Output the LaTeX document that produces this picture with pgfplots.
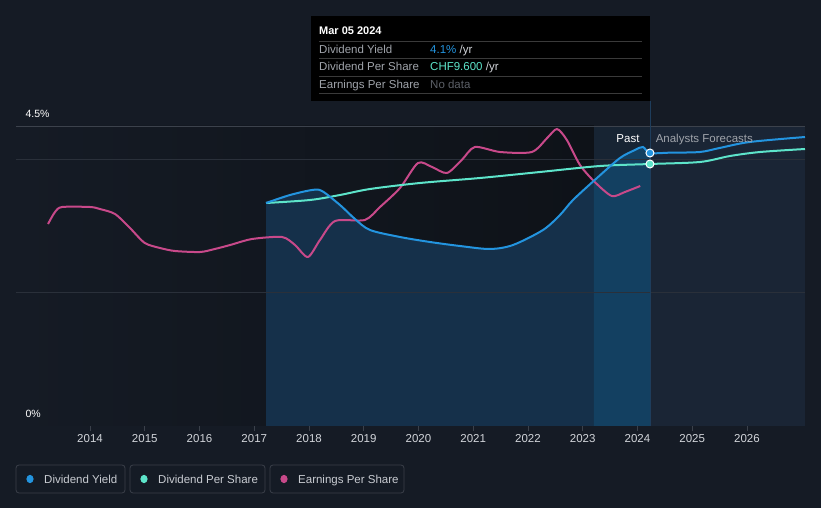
\documentclass[border=0pt]{standalone}
\usepackage{fontspec}
\setmainfont{Liberation Sans}
\usepackage{pgfplots}
\pgfplotsset{compat=1.18}
\definecolor{bg}{HTML}{151B25}
\definecolor{bgdark}{HTML}{0E1218}
\definecolor{pasthl}{HTML}{172433}
\definecolor{fcast}{HTML}{1A2535}
\definecolor{yfill}{HTML}{15304A}
\definecolor{yfillhl}{HTML}{134061}
\definecolor{yieldblue}{HTML}{2394DF}
\definecolor{dpsteal}{HTML}{5DE4CA}
\definecolor{epspink}{HTML}{C8498A}
\definecolor{gridc}{HTML}{2A303A}
\definecolor{gridtop}{HTML}{3C424C}
\definecolor{axisgray}{HTML}{3B414B}
\definecolor{ticktext}{HTML}{D2D5DA}
\definecolor{legtext}{HTML}{C9CCD2}
\definecolor{legborder}{HTML}{3A3F49}
\definecolor{ttlabel}{HTML}{A0A4AB}
\definecolor{ttsep}{HTML}{3A3A3A}
\definecolor{ttgrey}{HTML}{5C6068}
\definecolor{hover}{HTML}{1E3D5C}
\tikzset{txt/.style={anchor=west, inner sep=0pt, text height=8.3pt, text depth=0pt, font=\fontsize{11.5}{13}\selectfont}}
\begin{document}
\begin{tikzpicture}
\fill[bg] (0,0) rectangle (821pt,508pt);
\begin{axis}[
  at={(16pt,82pt)}, anchor=south west,
  scale only axis, width=789pt, height=300pt,
  xmin=2012.648, xmax=2027.06, ymin=0, ymax=4.5,
  clip=false,
  axis x line*=bottom, axis y line=none,
  x axis line style={-, draw=axisgray, line width=1pt},
  xtick={2014,2015,2016,2017,2018,2019,2020,2021,2022,2023,2024,2025,2026},
  xticklabels={2014,2015,2016,2017,2018,2019,2020,2021,2022,2023,2024,2025,2026},
  tick style={draw=axisgray, line width=0.8pt},
  tick align=outside, major tick length=5pt,
  xticklabel style={font=\fontsize{11.5}{13}\selectfont, text=ticktext},
  ytick=\empty,
]
% regions
\shade[left color=bg, right color=bgdark] (axis cs:2012.648,0) rectangle (axis cs:2023.205,4.5);
\fill[pasthl] (axis cs:2023.205,0) rectangle (axis cs:2024.228,4.5);
\fill[fcast] (axis cs:2024.228,0) rectangle (axis cs:2027.06,4.5);
% yield area
\addplot[smooth, tension=0.5, draw=none, fill=yfill] coordinates {
(2017.215,3.345)(2017.653,3.465)(2018.055,3.54)(2018.237,3.525)(2018.566,3.315)(2018.84,3.105)(2019.114,2.94)(2019.662,2.835)(2020.21,2.76)(2020.758,2.70)(2021.306,2.655)(2021.726,2.715)(2022.274,2.94)(2022.584,3.165)(2022.822,3.39)(2023.26,3.72)(2023.68,4.02)(2023.954,4.14)(2024.1,4.185)(2024.228,4.095)
} \closedcycle;
\addplot[smooth, tension=0.5, draw=none, fill=yfillhl] coordinates {
(2023.205,3.67)(2023.26,3.72)(2023.68,4.02)(2023.954,4.14)(2024.1,4.185)(2024.228,4.095)
} \closedcycle;
% grid
\draw[gridc, line width=0.8pt] (axis cs:2012.648,2) -- (axis cs:2027.06,2);
\draw[gridc, line width=0.8pt] (axis cs:2012.648,4) -- (axis cs:2027.06,4);
\draw[gridtop, line width=0.8pt] (axis cs:2012.648,4.5) -- (axis cs:2027.06,4.5);
% hover line
\draw[hover, line width=0.8pt] (axis cs:2024.228,0) -- (axis cs:2024.228,4.875);
% EPS
\addplot[smooth, tension=0.45, epspink, line width=2pt] coordinates {
(2013.233,3.03)(2013.36,3.21)(2013.49,3.285)(2014.0,3.285)(2014.18,3.255)(2014.457,3.18)(2014.73,2.97)(2015.0,2.745)(2015.28,2.67)(2015.55,2.625)(2016.01,2.61)(2016.28,2.655)(2016.56,2.715)(2016.96,2.805)(2017.507,2.835)(2017.744,2.715)(2017.98,2.535)(2018.2,2.79)(2018.475,3.075)(2019.02,3.09)(2019.297,3.285)(2019.662,3.57)(2019.99,3.945)(2020.247,3.885)(2020.52,3.795)(2020.79,3.99)(2021.03,4.185)(2021.49,4.11)(2022.07,4.11)(2022.35,4.32)(2022.53,4.455)(2022.71,4.29)(2022.95,3.915)(2023.22,3.66)(2023.53,3.45)(2023.77,3.51)(2024.05,3.60)
};
% DPS
\addplot[smooth, tension=0.5, dpsteal, line width=2pt] coordinates {
(2017.215,3.345)(2018.018,3.39)(2018.566,3.465)(2019.114,3.555)(2020.027,3.645)(2021.123,3.72)(2022.219,3.81)(2023.315,3.90)(2024.228,3.93)(2025.14,3.96)(2025.69,4.05)(2026.24,4.11)(2027.06,4.155)
};
% Yield
\addplot[smooth, tension=0.5, yieldblue, line width=2pt] coordinates {
(2017.215,3.345)(2017.653,3.465)(2018.055,3.54)(2018.237,3.525)(2018.566,3.315)(2018.84,3.105)(2019.114,2.94)(2019.662,2.835)(2020.21,2.76)(2020.758,2.70)(2021.306,2.655)(2021.726,2.715)(2022.274,2.94)(2022.584,3.165)(2022.822,3.39)(2023.26,3.72)(2023.68,4.02)(2023.954,4.14)(2024.1,4.185)(2024.228,4.095)(2024.6,4.1)(2025.14,4.11)(2025.5,4.17)(2026.05,4.26)(2027.06,4.335)
};
% markers
\addplot[only marks, mark=*, mark size=4pt, mark options={fill=yieldblue, draw=white, line width=1pt}] coordinates {(2024.228,4.095)};
\addplot[only marks, mark=*, mark size=4pt, mark options={fill=dpsteal, draw=white, line width=1pt}] coordinates {(2024.228,3.93)};
% labels
\node[txt, anchor=east, text=white] at (axis cs:2024.04,4.32) {Past};
\node[txt, text=ttlabel] at (axis cs:2024.33,4.32) {Analysts Forecasts};
\node[txt, text=white, font=\fontsize{10.5}{12}\selectfont, text height=7.6pt] at (axis cs:2012.82,4.68) {4.5\%};
\node[txt, text=white, font=\fontsize{10.5}{12}\selectfont, text height=7.6pt] at (axis cs:2012.82,0.18) {0\%};
\end{axis}
% tooltip
\fill[black] (311pt,407pt) rectangle (650pt,492pt);
\node[txt, text=white, font=\bfseries\fontsize{11}{13}\selectfont, text height=8pt] at (319pt,477pt) {Mar 05 2024};
\foreach \yy in {467,450,432,415} { \draw[ttsep, line width=0.8pt] (319pt,\yy pt) -- (642pt,\yy pt); }
\node[txt, text=ttlabel] at (319pt,459pt) {Dividend Yield};
\node[txt, text=ttlabel] at (319pt,442pt) {Dividend Per Share};
\node[txt, text=ttlabel] at (319pt,424pt) {Earnings Per Share};
\node[txt] at (430pt,459pt) {\textcolor{yieldblue}{4.1\%}\textcolor{ticktext}{\ /yr}};
\node[txt] at (430pt,442pt) {\textcolor{dpsteal}{CHF9.600}\textcolor{ticktext}{\ /yr}};
\node[txt, text=ttgrey] at (430pt,424pt) {No data};
% legend
\draw[legborder, line width=0.8pt, rounded corners=3pt] (16pt,15pt) rectangle (125pt,43pt);
\draw[legborder, line width=0.8pt, rounded corners=3pt] (130pt,15pt) rectangle (265pt,43pt);
\draw[legborder, line width=0.8pt, rounded corners=3pt] (270pt,15pt) rectangle (404pt,43pt);
\fill[yieldblue] (30pt,29pt) ellipse (3.6pt and 4.2pt);
\fill[dpsteal] (144pt,29pt) ellipse (3.6pt and 4.2pt);
\fill[epspink] (284pt,29pt) ellipse (3.6pt and 4.2pt);
\node[txt, text=legtext] at (44pt,29pt) {Dividend Yield};
\node[txt, text=legtext] at (158pt,29pt) {Dividend Per Share};
\node[txt, text=legtext] at (298pt,29pt) {Earnings Per Share};
\end{tikzpicture}
\end{document}
